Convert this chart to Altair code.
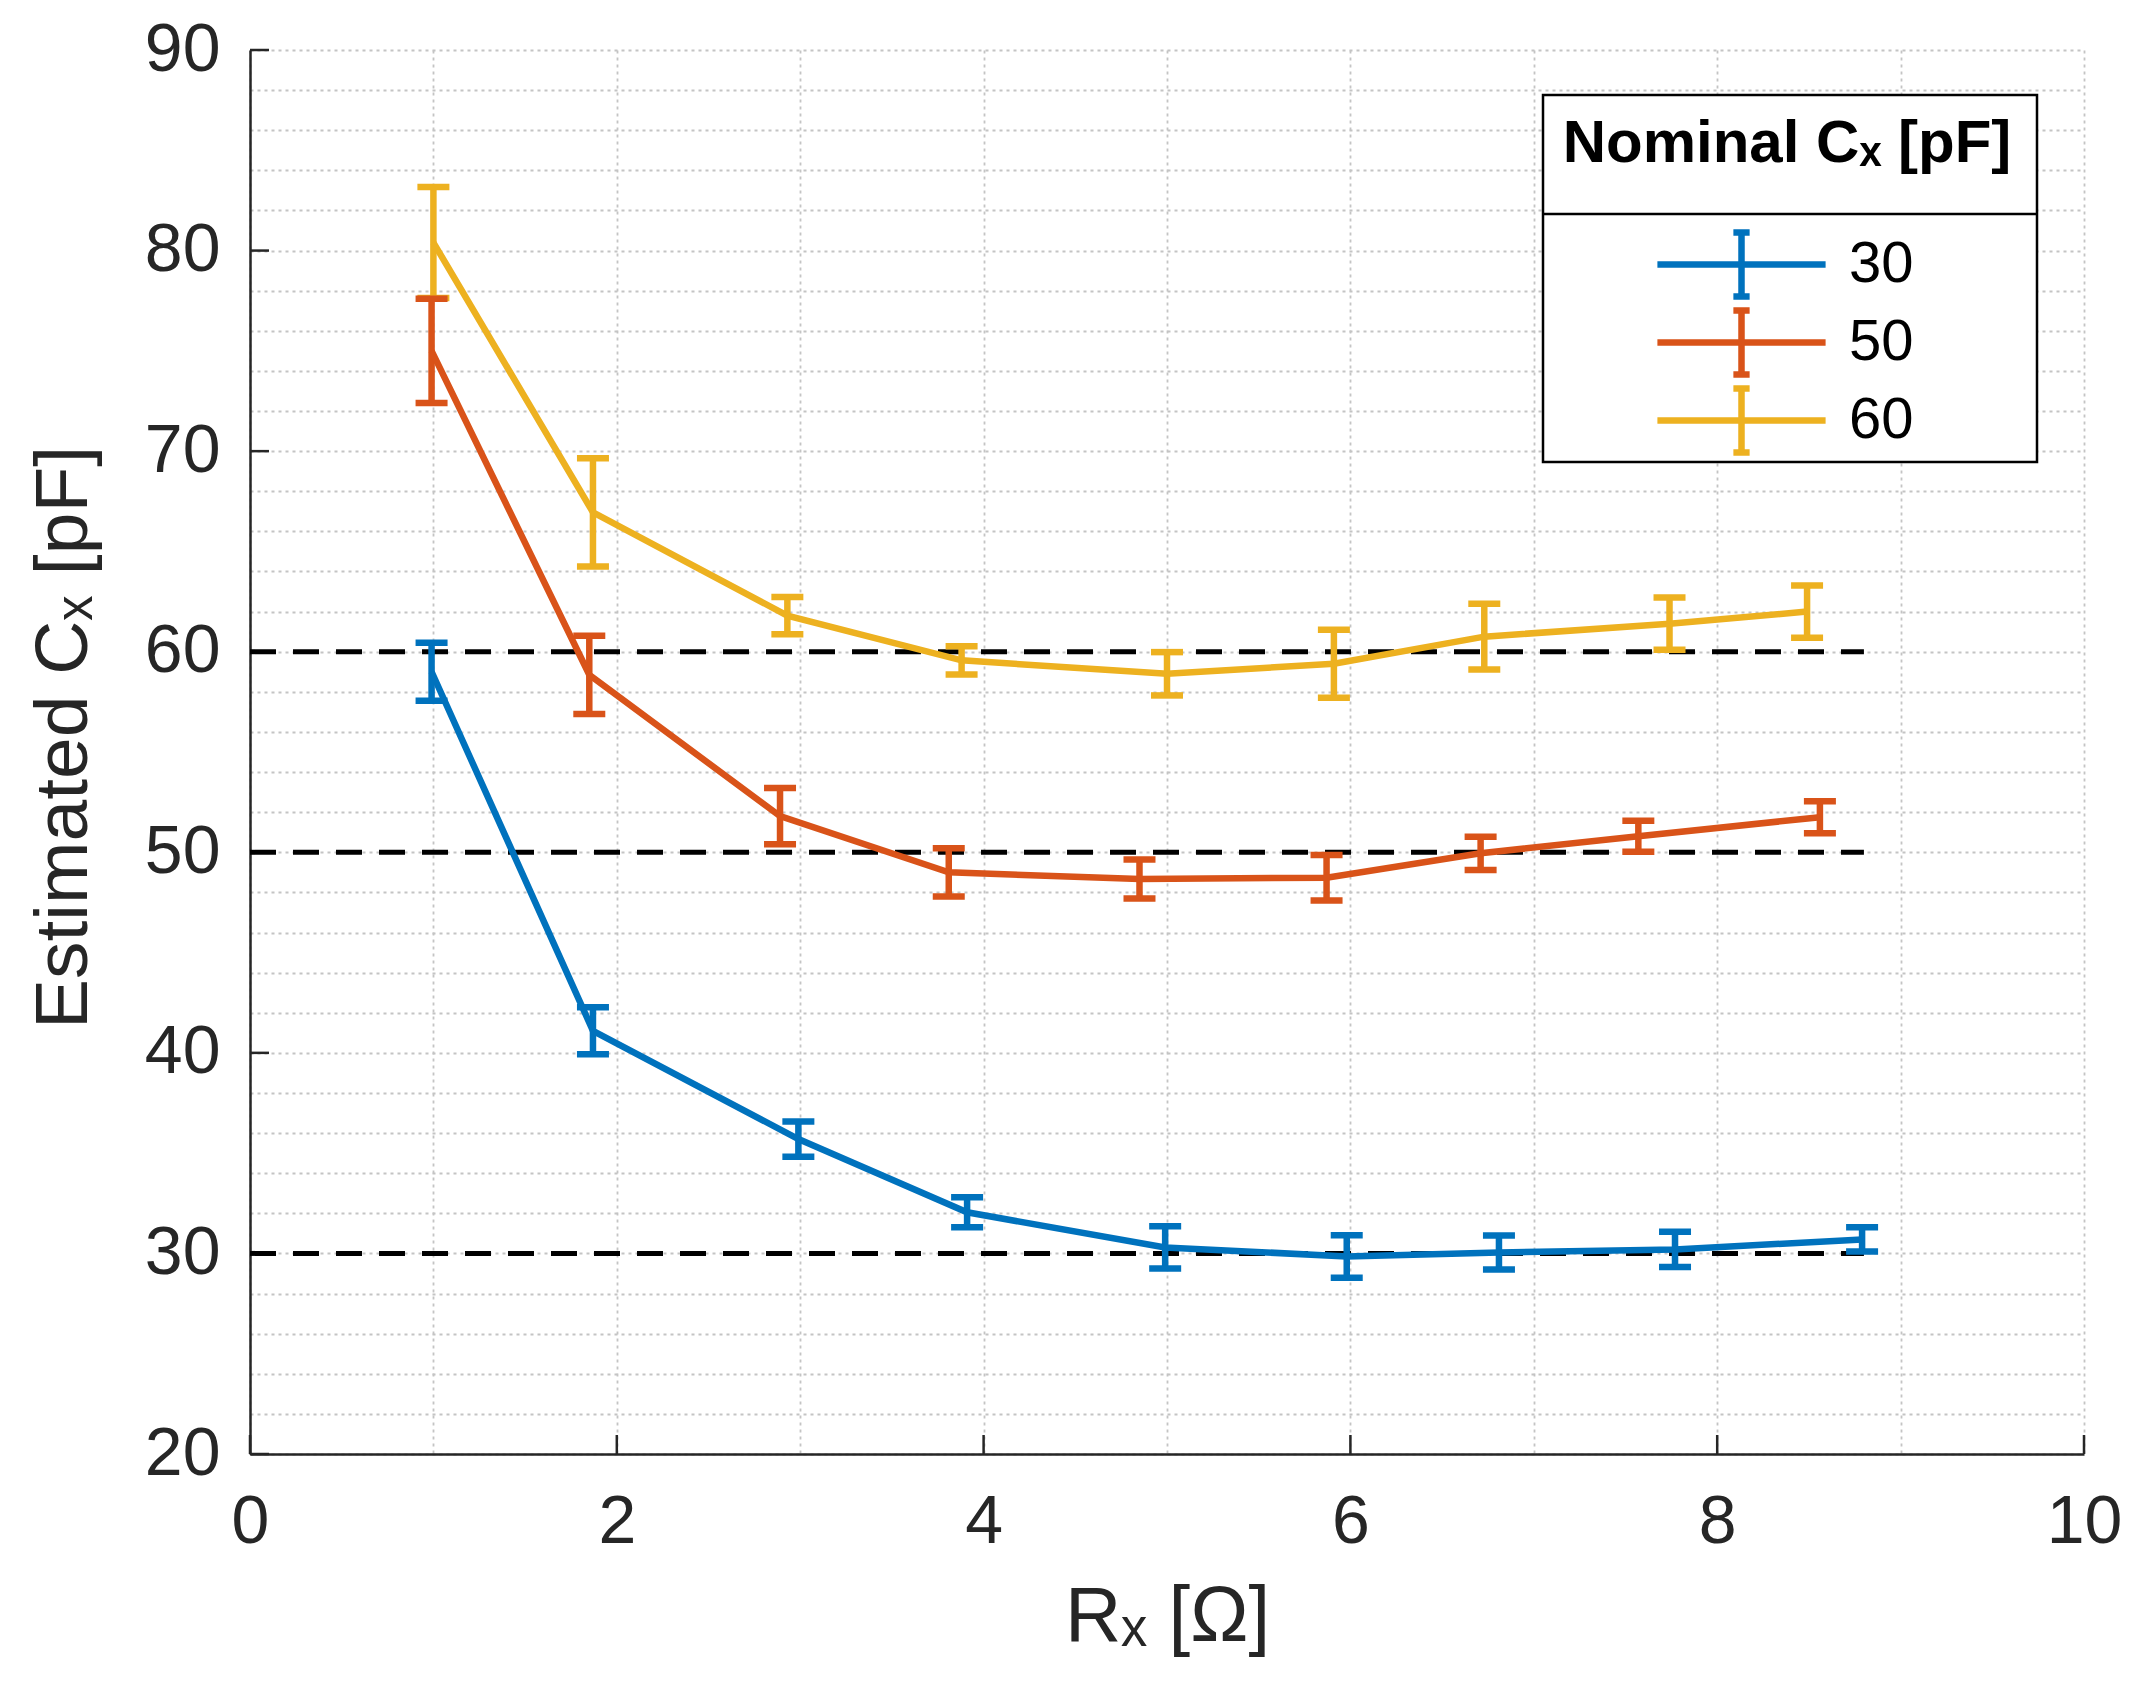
import altair as alt
import pandas as pd

# ---------------- data ----------------
series_names = ["30", "50", "60"]
series_colors = ["#0072BD", "#D95319", "#EDB120"]

rx_30 = [0.99, 1.87, 2.99, 3.91, 4.99, 5.98, 6.81, 7.77, 8.79]
cx_30 = [59.0, 41.1, 35.7, 32.05, 30.3, 29.85, 30.05, 30.2, 30.7]
err_30 = [1.45, 1.17, 0.88, 0.75, 1.05, 1.06, 0.85, 0.88, 0.6]

rx_50 = [0.99, 1.85, 2.89, 3.81, 4.85, 5.87, 6.71, 7.57, 8.56]
cx_50 = [75.0, 58.85, 51.8, 49.0, 48.67, 48.73, 49.95, 50.8, 51.75]
err_50 = [2.6, 1.95, 1.4, 1.2, 0.97, 1.13, 0.83, 0.77, 0.8]

rx_60 = [1.0, 1.87, 2.93, 3.88, 5.0, 5.91, 6.73, 7.74, 8.49]
cx_60 = [80.4, 66.95, 61.8, 59.57, 58.9, 59.4, 60.75, 61.4, 62.0]
err_60 = [2.77, 2.7, 0.93, 0.7, 1.08, 1.7, 1.64, 1.3, 1.3]

nominal_levels = [30, 50, 60]
nominal_x_start = [0, 0, 0]
nominal_x_end = [8.8, 8.8, 8.8]

x_major_ticks = [0, 2, 4, 6, 8, 10]
y_major_ticks = [20, 30, 40, 50, 60, 70, 80, 90]
x_grid_values = [i * 0.5 for i in range(21)]
y_grid_values = [20 + 2 * i for i in range(36)]

# ---------------- tables ----------------
rows = []
for name, xs, ys, es in [("30", rx_30, cx_30, err_30),
                         ("50", rx_50, cx_50, err_50),
                         ("60", rx_60, cx_60, err_60)]:
    for xv, yv, ev in zip(xs, ys, es):
        rows.append(dict(series=name, x=xv, y=yv, lo=yv - ev, hi=yv + ev))
df = pd.DataFrame(rows)
ref_df = pd.DataFrame(dict(level=nominal_levels, x0=nominal_x_start, x1=nominal_x_end))
xt_df = pd.DataFrame(dict(v=x_major_ticks))
yt_df = pd.DataFrame(dict(v=y_major_ticks))
one_df = pd.DataFrame(dict(a=[0]))

# ---------------- styling ----------------
FONT = "Liberation Sans"
AX = "#262626"
W, H = 1834, 1404
LW = 6.5

xscale = alt.Scale(domain=[0, 10], nice=False, zero=False)
yscale = alt.Scale(domain=[20, 90], nice=False, zero=False)
cscale = alt.Scale(domain=series_names, range=series_colors)

common_axis = dict(
    grid=True, gridColor="#c4c4c4", gridDash=[3, 4], gridWidth=1.8,
    ticks=False, tickSize=0,
    domain=True, domainColor=AX, domainWidth=2.5,
    labelFont=FONT, labelFontSize=68, labelColor=AX,
    labelOverlap=False, labelFlush=False,
    titleFont=FONT, titleFontWeight="normal", titleColor=AX,
)

x_axis = alt.Axis(values=x_grid_values, format="d",
                  labelExpr="datum.value % 2 == 0 ? datum.label : ''",
                  labelPadding=34, title="Rₓ [Ω]", titlePadding=22,
                  titleFontSize=78, **common_axis)
y_axis = alt.Axis(values=y_grid_values, format="d",
                  labelExpr="datum.value % 10 == 0 ? datum.label : ''",
                  labelPadding=30, title="Estimated Cₓ [pF]", titlePadding=42,
                  titleFontSize=75, titleY=687, **common_axis)


def X(field):
    return alt.X(field, scale=xscale, axis=x_axis)


def Y(field):
    return alt.Y(field, scale=yscale, axis=y_axis)


legend_symbol = ("M-2.9,0L2.9,0M0,-1.1L0,1.1"
                 "M-0.28,-1.1L0.28,-1.1M-0.28,1.1L0.28,1.1")

legend = alt.Legend(
    title="Nominal Cₓ [pF]", orient="none", legendX=1293, legendY=45,
    padding=20, titleAnchor="middle", titleFont=FONT, titleFontSize=60,
    titleFontWeight="bold", titleColor="black", titlePadding=57, titleLimit=2000,
    labelFont=FONT, labelFontSize=58, labelColor="black", labelLimit=500,
    symbolType=legend_symbol, symbolSize=58 * 58, symbolStrokeWidth=LW,
    symbolOffset=49, labelOffset=75, rowPadding=-14,
)


def C():
    return alt.Color("series:N", scale=cscale, legend=legend)


# legend frame (white box + divider under the title)
frame = alt.Chart(one_df).mark_rect(fill="white", stroke="black", strokeWidth=2.5).encode(
    x=alt.value(1293), x2=alt.value(1787), y=alt.value(45), y2=alt.value(412))
divider = alt.Chart(one_df).mark_rule(color="black", strokeWidth=2.5).encode(
    x=alt.value(1293), x2=alt.value(1787), y=alt.value(164))

# inward major ticks
xticks = alt.Chart(xt_df).mark_rule(color=AX, strokeWidth=2.5).encode(
    x=X("v:Q"), y=alt.value(H - 19), y2=alt.value(H))
yticks = alt.Chart(yt_df).mark_rule(color=AX, strokeWidth=2.5).encode(
    y=Y("v:Q"), x=alt.value(0), x2=alt.value(19))

ref = alt.Chart(ref_df).mark_rule(color="black", strokeWidth=5, strokeDash=[26, 17]).encode(
    x=X("x0:Q"), x2="x1:Q", y=Y("level:Q"))

bars = alt.Chart(df).mark_rule(strokeWidth=LW, opacity=1).encode(
    x=X("x:Q"), y=Y("lo:Q"), y2="hi:Q", color=C())
cap_lo = alt.Chart(df).mark_tick(orient="horizontal", size=32, thickness=LW, opacity=1).encode(
    x=X("x:Q"), y=Y("lo:Q"), color=C())
cap_hi = alt.Chart(df).mark_tick(orient="horizontal", size=32, thickness=LW, opacity=1).encode(
    x=X("x:Q"), y=Y("hi:Q"), color=C())
lines = alt.Chart(df).mark_line(strokeWidth=LW).encode(
    x=X("x:Q"), y=Y("y:Q"), color=C())

chart = alt.layer(
    frame, divider, xticks, yticks, ref, bars, cap_lo, cap_hi, lines
).properties(
    width=W, height=H,
    autosize=alt.AutoSizeParams(type="none"),
    padding={"left": 242, "top": 42, "right": 40, "bottom": 236},
    background="white",
).configure_view(stroke=None).configure_legend(strokeWidth=0)

chart.save("out.html", embed_options={"renderer": "svg", "actions": False})
